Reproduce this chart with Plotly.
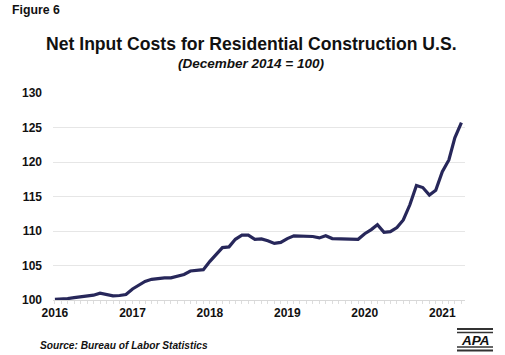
import plotly.graph_objects as go
import pandas as pd

# Monthly index values, Jan 2016 - Apr 2021 (December 2014 = 100)
start_month = "2016-01-01"
values = [
    100.1, 100.1, 100.2, 100.35, 100.5, 100.6, 100.7, 101.0, 100.75, 100.6, 100.65, 100.8,   # 2016
    101.6, 102.2, 102.7, 103.0, 103.15, 103.2, 103.2, 103.5, 103.7, 104.2, 104.35, 104.4,   # 2017
    105.6, 106.7, 107.6, 107.7, 108.8, 109.4, 109.4, 108.8, 108.85, 108.6, 108.2, 108.35,   # 2018
    108.9, 109.3, 109.25, 109.25, 109.2, 109.0, 109.3, 108.9, 108.85, 108.8, 108.75, 108.8, # 2019
    109.6, 110.2, 110.9, 109.8, 109.9, 110.5, 111.6, 113.8, 116.6, 116.3, 115.2, 115.9,     # 2020
    118.6, 120.3, 123.5, 125.7,                                                             # 2021
]
dates = pd.date_range(start_month, periods=len(values), freq="MS")

year_ticks = ["2016-01-01", "2017-01-01", "2018-01-01", "2019-01-01", "2020-01-01", "2021-01-01"]
year_labels = ["2016", "2017", "2018", "2019", "2020", "2021"]
y_ticks = [100, 105, 110, 115, 120, 125, 130]

FONT = "Liberation Sans, Arial, sans-serif"
NAVY = "#27275a"
W, H = 505, 355
ML, MR, MT, MB = 53, 40, 93, 55
pw = W - ML - MR
ph = H - MT - MB


def px(x):
    return (x - ML) / pw


def py(y):
    return (H - y - MB) / ph


fig = go.Figure()
fig.add_trace(go.Scatter(
    x=dates, y=values, mode="lines",
    line=dict(color=NAVY, width=3.2),
    hoverinfo="skip", showlegend=False,
))

ann = [
    ("<b>Figure 6</b>", 10, 10, "left", 12.3),
    ("<b>Net Input Costs for Residential Construction U.S.</b>", 251, 44, "center", 17.6),
    ("<b><i>(December 2014 = 100)</i></b>", 251, 63, "center", 13.5),
    ("<b><i>Source: Bureau of Labor Statistics</i></b>", 38, 345, "left", 10.2),
    ("<b><i>APA</i></b>", 475, 340, "center", 13.5),
]

fig.update_layout(
    width=W, height=H,
    margin=dict(l=ML, r=MR, t=MT, b=MB, autoexpand=False),
    paper_bgcolor="white", plot_bgcolor="white",
    font=dict(family=FONT, color="#111111"),
    xaxis=dict(
        type="date",
        range=["2015-12-23", "2021-04-18"],
        tickvals=year_ticks, ticktext=year_labels,
        showgrid=False, zeroline=False,
        showline=True, linecolor="#d8d8d8", linewidth=1,
        ticks="", ticklabelstandoff=2,
        tickfont=dict(family=FONT, size=12, color="#111111", weight="bold"),
        minor=dict(dtick="M1", ticks="outside", ticklen=3, tickcolor="#dddddd", showgrid=False),
        fixedrange=True,
    ),
    yaxis=dict(
        range=[100, 130],
        tickvals=y_ticks,
        showgrid=True, gridcolor="#e6e6e6", gridwidth=1,
        zeroline=False, showline=False, ticks="",
        ticklabelstandoff=10,
        tickfont=dict(family=FONT, size=12, color="#111111", weight="bold"),
        fixedrange=True,
    ),
    annotations=[
        dict(text=t, x=px(x), y=py(y), xref="paper", yref="paper",
             showarrow=False, xanchor=xa, yanchor="middle",
             font=dict(family=FONT, size=s, color="#111111"))
        for (t, x, y, xa, s) in ann
    ],
    shapes=[
        dict(type="line", xref="paper", yref="paper",
             x0=px(457), x1=px(493), y0=py(yy), y1=py(yy),
             line=dict(color="#333333", width=w))
        for yy, w in [(329, 2), (332.5, 1.5), (347, 1.5), (350.5, 2)]
    ],
)

fig.write_html(
    "out.html",
    config={"displayModeBar": False},
    post_script="document.body.style.margin='0';document.body.style.padding='0';",
)
